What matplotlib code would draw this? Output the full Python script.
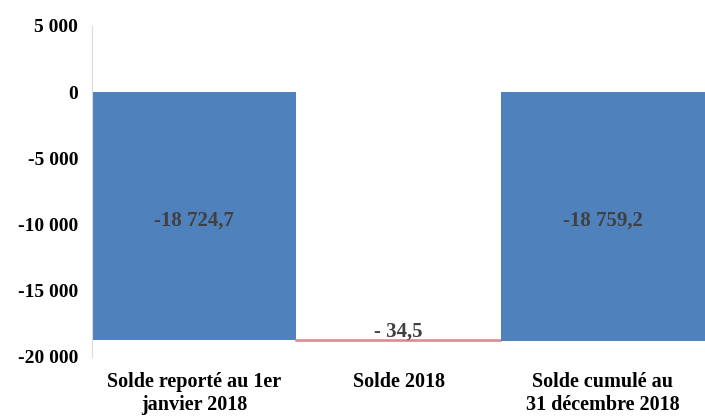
import matplotlib
matplotlib.use("Agg")
import matplotlib.pyplot as plt
from matplotlib.ticker import FuncFormatter

categories = ["Solde reporté au 1er\njanvier 2018", "Solde 2018", "Solde cumulé au\n31 décembre 2018"]
values = [-18724.7, -34.5, -18759.2]
y_ticks = [-20000, -15000, -10000, -5000, 0, 5000]

plt.rcParams["font.family"] = ["Liberation Serif", "DejaVu Serif"]
plt.rcParams["font.weight"] = "bold"

BLUE = "#4F81BD"
RED = "#D98E94"
LABEL = "#404040"


def fmt_num(v, decimals=0):
    s = f"{abs(v):,.{decimals}f}".replace(",", " ").replace(".", ",")
    return ("-" if v < 0 else "") + s


fig = plt.figure(figsize=(7.05, 4.19), dpi=100)
ax = fig.add_axes([0.1305, 0.148, 0.8695, 0.79])

x = list(range(len(categories)))
# opening balance, yearly change (floating), closing balance
bottoms = [0, values[0], 0]
colors = [BLUE, RED, BLUE]
ax.bar(x, values, bottom=bottoms, width=1.0, color=colors,
       edgecolor=colors, linewidth=[0, 1.2, 0])

for i, (v, b) in enumerate(zip(values, bottoms)):
    if i == 1:
        ax.annotate(f"- {fmt_num(abs(v), 1)}", (i, b), xytext=(0, -1),
                    textcoords="offset points", ha="center", va="bottom",
                    fontsize=15, color=LABEL, fontweight="bold")
    else:
        ax.text(i, b + v / 2 - 300, fmt_num(v, 1), ha="center", va="center",
                fontsize=15, color=LABEL, fontweight="bold")

ax.set_xlim(-0.5, 2.5)
ax.set_ylim(-20000, 5000)
ax.set_yticks(y_ticks)
ax.yaxis.set_major_formatter(FuncFormatter(lambda v, p: fmt_num(v)))
ax.set_xticks(x)
ax.set_xticklabels(categories, fontsize=14.5, fontweight="bold", linespacing=1.2)

for side in ["top", "right", "bottom"]:
    ax.spines[side].set_visible(False)
ax.spines["left"].set_color("#D9D9D9")
ax.tick_params(axis="both", length=0)
ax.tick_params(axis="y", pad=10, labelsize=14)
ax.tick_params(axis="x", pad=11)

fig.savefig("out.png", dpi=100)
